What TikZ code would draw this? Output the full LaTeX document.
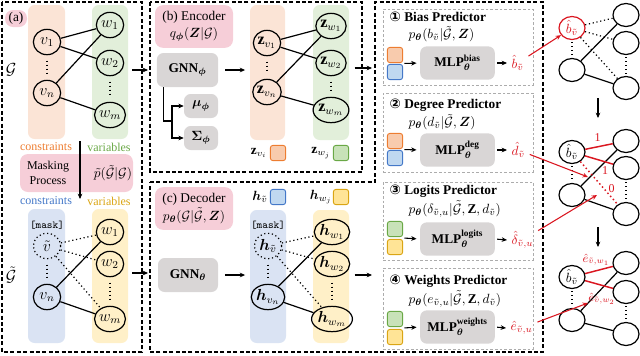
\documentclass[tikz,border=0pt]{standalone}
\usepackage{amssymb}
\usepackage{amsmath}
\usepackage{fontspec}
\setmainfont{Liberation Serif}
\newfontfamily\symfont{DejaVu Sans}
\usetikzlibrary{
	arrows.meta, shapes.geometric, positioning, calc, fit
}
\definecolor{consfill}  {RGB}{251, 228, 214}
\definecolor{varfill}   {RGB}{226, 239, 218}
\definecolor{maskfill}  {RGB}{218, 227, 243}
\definecolor{yelfill}   {RGB}{255, 240, 200}
\definecolor{pinkfill}  {RGB}{246, 206, 216}
\definecolor{gnngray}   {RGB}{217, 214, 214}
\definecolor{consdark}  {RGB}{237, 125,  49}
\definecolor{vardark}   {RGB}{106, 168,  70}
\definecolor{maskdark}  {RGB}{ 68, 120, 200}
\definecolor{yeldark}   {RGB}{218, 165,  20}
\definecolor{conssq}    {RGB}{248, 203, 173}
\definecolor{varsq}     {RGB}{200, 226, 184}
\definecolor{masksq}    {RGB}{192, 216, 240}
\definecolor{yelsq}     {RGB}{255, 228, 150}
\definecolor{predred}   {RGB}{218,  22,  32}

\begin{document}
\begin{tikzpicture}[x=0.75pt, y=-0.75pt,
	vtx/.style={ellipse, draw, line width=0.9pt, minimum width=20.5pt, minimum height=19pt, inner sep=0pt, font=\large},
	mvtx/.style={vtx, dotted},
	svtx/.style={ellipse, draw, line width=0.9pt, minimum width=19.5pt, minimum height=17.25pt, inner sep=0pt},
	lnk/.style={line width=0.9pt},
	mlnk/.style={lnk, dotted},
	redlnk/.style={line width=1.1pt, draw=predred},
	vdots/.style={line width=1pt, dotted, shorten <=4pt, shorten >=4pt},
	sdots/.style={line width=1pt, dotted, shorten <=1.5pt, shorten >=1.5pt},
	col/.style={rounded corners=5pt, inner sep=0pt},
	pinkbox/.style={fill=pinkfill, rounded corners=6pt, align=center, inner sep=0pt},
	graybox/.style={fill=gnngray, rounded corners=5pt, inner sep=0pt},
	sq/.style={rounded corners=2pt, line width=0.7pt, minimum size=11.5pt, inner sep=0pt},
	arr/.style={-{Stealth[length=4pt, width=3.5pt]}, line width=0.8pt},
	redarr/.style={arr, draw=predred},
	outer/.style={dash pattern=on 3pt off 1.8pt, line width=0.9pt},
	predbox/.style={draw=gray!65, dash pattern=on 2pt off 1.5pt, line width=0.6pt, inner sep=0pt},
	ttl/.style={anchor=west, font=\bfseries},
	mlp/.style={graybox, minimum width=56pt, minimum height=25pt},
	outl/.style={anchor=west, text=predred},
]
\useasboundingbox (0,0) rectangle (640,355);

% (a) input graph and masking
\draw[outer] (2,2) rectangle (142,352);
\node[pinkbox, minimum width=16.5pt, minimum height=12.75pt] (alab) at (16,18.5) {(a)};
\node[col, fill=consfill, fit={(28,5) (65,139)}] (acons) {};
\node[col, fill=varfill, fit={(92,5) (128,139)}] (avars) {};
\node[vtx] (v1) at (47,42) {$v_1$};
\node[vtx] (vn) at (47,93) {$v_n$};
\node[vtx] (w1) at (110,25) {$w_1$};
\node[vtx] (w2) at (110,63) {$w_2$};
\node[vtx] (wm) at (110,115) {$w_m$};
\foreach \s/\t in {v1/w1, v1/w2, vn/w1, vn/wm} \draw[lnk] (\s) -- (\t);
\draw[vdots] (v1) -- (vn);
\draw[vdots] (w2) -- (wm);
\node (gorig) at (11,70) {\large $\mathcal{G}$};
\node[text=consdark, font=\small] (aconsl) at (46,147) {constraints};
\node[text=vardark, font=\small] (avarsl) at (109,147) {variables};
\node[pinkbox, fit={(20,154) (133,192)}] (amaskbox) {};
\node[font=\small, align=center] (amaskl) at (48,173) {Masking\\Process};
\node (aptil) at (113,173) {$\tilde{p}(\tilde{\mathcal{G}}|\mathcal{G})$};
\coordinate (msktop) at (80,141);
\coordinate (mskbot) at (80,199);
\draw[arr] (msktop) -- (mskbot);
\node[text=maskdark, font=\small] (mconsl) at (46,201) {constraints};
\node[text=yeldark, font=\small] (mvarsl) at (109,201) {variables};
\node[col, fill=maskfill, fit={(28,209) (65,343)}] (mcons) {};
\node[col, fill=yelfill, fit={(92,209) (128,343)}] (mvars) {};
\node[font=\footnotesize\ttfamily] (mtag) at (47,225) {[mask]};
\node[mvtx] (vt) at (47,246) {$\tilde{v}$};
\node[vtx] (vnt) at (47,297) {$v_n$};
\node[vtx] (wt1) at (110,232) {$w_1$};
\node[vtx] (wt2) at (110,264) {$w_2$};
\node[vtx] (wtm) at (110,319) {$w_m$};
\foreach \t in {wt1, wt2, wtm} \draw[mlnk] (vt) -- (\t);
\foreach \t in {wt1, wtm} \draw[lnk] (vnt) -- (\t);
\draw[vdots] (vt) -- (vnt);
\draw[vdots] (wt2) -- (wtm);
\node (gmask) at (11,275) {\large $\tilde{\mathcal{G}}$};
\coordinate (ab1) at (132,70);
\coordinate (ab2) at (148,70);
\draw[arr] (ab1) -- (ab2);
\coordinate (ac1) at (132,273);
\coordinate (ac2) at (148,273);
\draw[arr] (ac1) -- (ac2);

% (b) encoder
\draw[outer] (150,2) rectangle (362,172);
\node[pinkbox, minimum width=58.5pt, minimum height=32pt] (benc) at (194,26.5) {(b) Encoder\\[1pt]$q_{\boldsymbol{\phi}}(\boldsymbol{Z}|\mathcal{G})$};
\node[graybox, minimum width=46pt, minimum height=25.5pt] (gnnphi) at (187.5,70) {\textbf{GNN}$_{\boldsymbol{\phi}}$};
\node[graybox, minimum width=25.5pt, minimum height=18pt] (muphi) at (201,106) {$\boldsymbol{\mu}_{\boldsymbol{\phi}}$};
\node[graybox, minimum width=25.5pt, minimum height=18pt] (sigphi) at (201,138) {$\boldsymbol{\Sigma}_{\boldsymbol{\phi}}$};
\coordinate (gnnfoot) at ($(gnnphi.south)+(-24,0)$);
\coordinate (split) at (172,121);
\draw[lnk] (gnnfoot) |- (split);
\draw[arr] (split) |- (muphi);
\draw[arr] (split) |- (sigphi);
\node[col, fill=consfill, fit={(250,5) (285,140)}] (zcons) {};
\node[col, fill=varfill, fit={(313,5) (349,140)}] (zvars) {};
\node[vtx] (zv1) at (267,43) {$\mathbf{z}_{v_1}$};
\node[vtx] (zvn) at (267,92) {$\mathbf{z}_{v_n}$};
\node[vtx] (zw1) at (331,26) {$\mathbf{z}_{w_1}$};
\node[vtx] (zw2) at (331,63) {$\mathbf{z}_{w_2}$};
\node[vtx] (zwm) at (331,110) {$\mathbf{z}_{w_m}$};
\foreach \s/\t in {zv1/zw1, zv1/zw2, zvn/zw1, zvn/zwm} \draw[lnk] (\s) -- (\t);
\draw[vdots] (zv1) -- (zvn);
\draw[vdots] (zw2) -- (zwm);
\node (zvil) at (259,153) {$\mathbf{z}_{v_i}$};
\node[sq, draw=consdark, fill=conssq] (zvisq) at (278,153) {};
\node (zwjl) at (321,153) {$\mathbf{z}_{w_j}$};
\node[sq, draw=vardark, fill=varsq] (zwjsq) at (341,153) {};
\draw[arr, shorten <=5pt, shorten >=3.5pt] (gnnphi.east) -- (gnnphi.east -| zcons.west);
\coordinate (bout) at (372,68);
\draw[arr, shorten <=4pt] (bout -| zvars.east) -- (bout);

% (c) decoder and predictors
\draw[outer] (150,182) -- (375,182) -- (375,2) -- (543,2) -- (543,352) -- (150,352) -- cycle;
\node[pinkbox, minimum width=58.5pt, minimum height=32pt] (cdec) at (194,208.5) {(c) Decoder\\[1pt]$p_{\boldsymbol{\theta}}(\mathcal{G}|\tilde{\mathcal{G}},\boldsymbol{Z})$};
\node[graybox, minimum width=45pt, minimum height=25.5pt] (gnnth) at (188,275) {\textbf{GNN}$_{\boldsymbol{\theta}}$};
\node (hvl) at (260,197) {$\boldsymbol{h}_{\tilde{v}}$};
\node[sq, draw=maskdark, fill=masksq] (hvsq) at (278,197) {};
\node (hwl) at (321,197) {$\boldsymbol{h}_{w_j}$};
\node[sq, draw=yeldark, fill=yelsq] (hwsq) at (341,197) {};
\node[col, fill=maskfill, fit={(250,210) (286,343)}] (hcons) {};
\node[col, fill=yelfill, fit={(313,210) (349,343)}] (hvars) {};
\node[font=\footnotesize\ttfamily] (htag) at (268,225) {[mask]};
\node[mvtx] (hvt) at (268,246) {$\boldsymbol{h}_{\tilde{v}}$};
\node[vtx] (hvn) at (268,297) {$\boldsymbol{h}_{v_n}$};
\node[vtx] (hw1) at (332,232) {$\boldsymbol{h}_{w_1}$};
\node[vtx] (hw2) at (332,264) {$\boldsymbol{h}_{w_2}$};
\node[vtx] (hwm) at (332,319) {$\boldsymbol{h}_{w_m}$};
\foreach \t in {hw1, hw2, hwm} \draw[mlnk] (hvt) -- (\t);
\foreach \t in {hw1, hwm} \draw[lnk] (hvn) -- (\t);
\draw[vdots] (hvt) -- (hvn);
\draw[vdots] (hw2) -- (hwm);
\draw[arr, shorten <=5pt, shorten >=3.5pt] (gnnth.east) -- (gnnth.east -| hcons.west);
\coordinate (cout) at (372,275);
\draw[arr, shorten <=4pt] (cout -| hvars.east) -- (cout);

% bias predictor
\node[predbox, fit={(383,9) (533,85)}] (pbias) {};
\node[ttl] (tbias) at (385,17) {{\symfont ①} Bias Predictor};
\node[anchor=west] (fbias) at (404,34) {$p_{\boldsymbol{\theta}}(b_{\tilde{v}}|\tilde{\mathcal{G}},\boldsymbol{Z})$};
\node[sq, draw=consdark, fill=conssq] (bsq1) at (395,55) {};
\node[sq, draw=maskdark, fill=masksq] (bsq2) at (395,72) {};
\node[mlp] (mlpbias) at (457.5,63) {\textbf{MLP}$^{\text{\textbf{bias}}}_{\boldsymbol{\theta}}$};
\node[outl] (obias) at (507,63) {$\hat{b}_{\tilde{v}}$};
\draw[arr, shorten <=1pt, shorten >=2.5pt] ($(bsq1.south east)!0.5!(bsq2.north east)$) -- (mlpbias.west);
\draw[arr, shorten <=1.5pt, shorten >=0pt] (mlpbias.east) -- (obias.west);

% degree predictor
\node[predbox, fit={(383,93) (533,172)}] (pdeg) {};
\node[ttl] (tdeg) at (385,105) {{\symfont ②} Degree Predictor};
\node[anchor=west] (fdeg) at (404,122) {$p_{\boldsymbol{\theta}}(d_{\tilde{v}}|\tilde{\mathcal{G}},\boldsymbol{Z})$};
\node[sq, draw=consdark, fill=conssq] (dsq1) at (395,141) {};
\node[sq, draw=maskdark, fill=masksq] (dsq2) at (395,158) {};
\node[mlp] (mlpdeg) at (457.5,150) {\textbf{MLP}$^{\text{\textbf{deg}}}_{\boldsymbol{\theta}}$};
\node[outl] (odeg) at (507,150) {$\hat{d}_{\tilde{v}}$};
\draw[arr, shorten <=1pt, shorten >=2.5pt] ($(dsq1.south east)!0.5!(dsq2.north east)$) -- (mlpdeg.west);
\draw[arr, shorten <=1.5pt, shorten >=0pt] (mlpdeg.east) -- (odeg.west);

% logits predictor
\node[predbox, fit={(383,182) (533,260)}] (plog) {};
\node[ttl] (tlog) at (385,191) {{\symfont ③} Logits Predictor};
\node[anchor=west] (flog) at (404,209) {$p_{\boldsymbol{\theta}}(\delta_{\tilde{v},u}|\tilde{\mathcal{G}},\mathbf{Z},d_{\tilde{v}})$};
\node[sq, draw=vardark, fill=varsq] (lsq1) at (395,229) {};
\node[sq, draw=yeldark, fill=yelsq] (lsq2) at (395,247) {};
\node[mlp] (mlplog) at (457.5,239) {\textbf{MLP}$^{\text{\textbf{logits}}}_{\boldsymbol{\theta}}$};
\node[outl] (olog) at (507,240) {$\hat{\delta}_{\tilde{v},u}$};
\draw[arr, shorten <=1pt, shorten >=2.5pt] ($(lsq1.south east)!0.5!(lsq2.north east)$) -- (mlplog.west);
\draw[arr, shorten <=1.5pt, shorten >=0pt] (mlplog.east) -- (olog.west);

% weights predictor
\node[predbox, fit={(383,268) (533,349)}] (pwt) {};
\node[ttl] (twt) at (385,281) {{\symfont ④} Weights Predictor};
\node[anchor=west] (fwt) at (404,299) {$p_{\boldsymbol{\theta}}(e_{\tilde{v},u}|\tilde{\mathcal{G}},\mathbf{Z},d_{\tilde{v}})$};
\node[sq, draw=vardark, fill=varsq] (esq1) at (395,319) {};
\node[sq, draw=yeldark, fill=yelsq] (esq2) at (395,337) {};
\node[mlp] (mlpwt) at (457.5,327) {\textbf{MLP}$^{\text{\textbf{weights}}}_{\boldsymbol{\theta}}$};
\node[outl] (owt) at (506,328) {$\hat{e}_{\tilde{v},u}$};
\draw[arr, shorten <=1pt, shorten >=2.5pt] ($(esq1.south east)!0.5!(esq2.north east)$) -- (mlpwt.west);
\draw[arr, shorten <=1.5pt, shorten >=0pt] (mlpwt.east) -- (owt.west);

% generated graph, step by step
\node[svtx, draw=predred, text=predred] (bt1) at (572,28) {$\hat{b}_{\tilde{v}}$};
\node[svtx] (l1) at (572,70) {};
\node[svtx] (r11) at (626,15) {};
\node[svtx] (r12) at (626,43) {};
\node[svtx] (r13) at (626,88) {};
\foreach \t in {r11, r12, r13} \draw[mlnk] (bt1) -- (\t);
\foreach \t in {r11, r13} \draw[lnk] (l1) -- (\t);
\draw[sdots] (bt1) -- (l1);
\draw[sdots] (r12) -- (r13);
\coordinate (g1d) at (598,98);
\coordinate (g2u) at (598,118);
\draw[arr] (g1d) -- (g2u);

\node[svtx] (bt2) at (572,152) {$\hat{b}_{\tilde{v}}$};
\node[svtx] (l2) at (572,195) {};
\node[svtx] (r21) at (626,141) {};
\node[svtx] (r22) at (626,168) {};
\node[svtx] (r23) at (626,214) {};
\foreach \t in {r21, r23} \draw[lnk] (l2) -- (\t);
\draw[redlnk] (bt2) -- node[above, text=predred, font=\small, pos=0.45] {1} (r21);
\draw[redlnk] (bt2) -- node[below, text=predred, font=\small, pos=0.72] {1} (r22);
\draw[redlnk, dotted] (bt2) -- node[right, text=predred, font=\small, pos=0.62] {0} (r23);
\draw[sdots] (bt2) -- (l2);
\draw[sdots] (r22) -- (r23);
\coordinate (g2d) at (598,227);
\coordinate (g3u) at (598,247);
\draw[arr] (g2d) -- (g3u);

\node[svtx] (bt3) at (572,277) {$\hat{b}_{\tilde{v}}$};
\node[svtx] (l3) at (572,320) {};
\node[svtx] (r31) at (626,263) {};
\node[svtx] (r32) at (626,292) {};
\node[svtx] (r33) at (626,334) {};
\foreach \t in {r31, r33} \draw[lnk] (l3) -- (\t);
\draw[redlnk] (bt3) -- node[above, text=predred, font=\small, pos=0.4] {$\hat{e}_{\tilde{v},w_1}$} (r31);
\draw[redlnk] (bt3) -- node[below=2pt, text=predred, font=\small, pos=0.6] {$\hat{e}_{\tilde{v},w_2}$} (r32);
\draw[sdots] (bt3) -- (l3);
\draw[sdots] (r32) -- (r33);

% predictions into the graph
\coordinate (degtip) at (588,177);
\coordinate (logtip) at (597,195);
\coordinate (wttip) at (588,303);
\draw[redarr] (obias) -- (bt1);
\draw[redarr] (odeg) -- (degtip);
\draw[redarr] (olog) -- (logtip);
\draw[redarr] (owt) -- (wttip);
\end{tikzpicture}
\end{document}
